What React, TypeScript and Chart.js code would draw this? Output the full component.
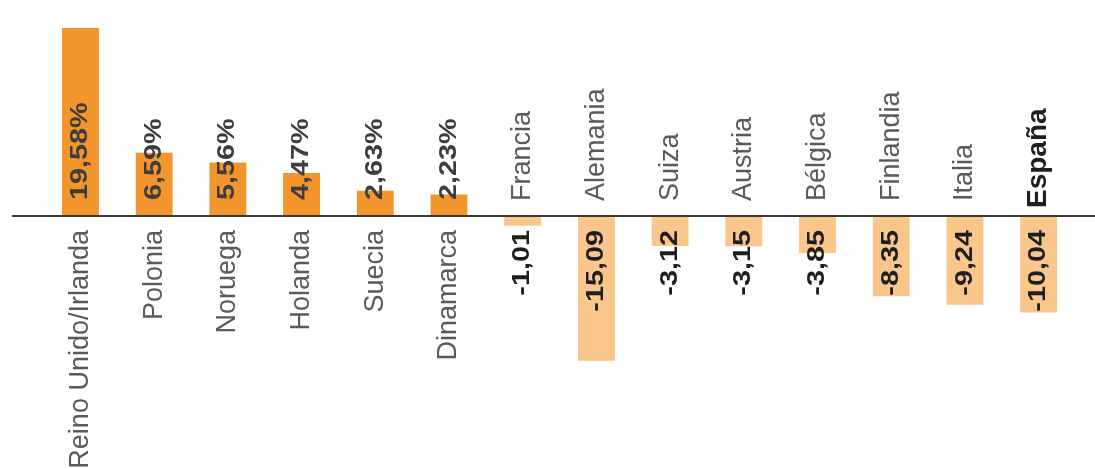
import React, { useEffect, useRef } from "react";
import { Chart, registerables } from "chart.js";

Chart.register(...registerables);

const categories = [
  "Reino Unido/Irlanda",
  "Polonia",
  "Noruega",
  "Holanda",
  "Suecia",
  "Dinamarca",
  "Francia",
  "Alemania",
  "Suiza",
  "Austria",
  "Bélgica",
  "Finlandia",
  "Italia",
  "España",
];

const values = [19.58, 6.59, 5.56, 4.47, 2.63, 2.23, -1.01, -15.09, -3.12, -3.15, -3.85, -8.35, -9.24, -10.04];

const valueLabels = [
  "19,58%",
  "6,59%",
  "5,56%",
  "4,47%",
  "2,63%",
  "2,23%",
  "-1,01",
  "-15,09",
  "-3,12",
  "-3,15",
  "-3,85",
  "-8,35",
  "-9,24",
  "-10,04",
];

const highlighted = ["España"];

const POS_COLOR = "#F3952D";
const NEG_COLOR = "#F9C68C";

const labelPlugin = {
  id: "customLabels",
  afterDatasetsDraw(chart: any) {
    const ctx = chart.ctx as CanvasRenderingContext2D;
    const meta = chart.getDatasetMeta(0);
    const yScale = chart.scales.y;
    const base = yScale.getPixelForValue(0);

    ctx.save();
    ctx.strokeStyle = "#3a3a3a";
    ctx.lineWidth = 2;
    ctx.beginPath();
    ctx.moveTo(12, base);
    ctx.lineTo(chart.width, base);
    ctx.stroke();
    ctx.restore();

    const drawRot = (
      text: string,
      x: number,
      y: number,
      align: CanvasTextAlign,
      font: string,
      color: string,
      stretch: number
    ) => {
      ctx.save();
      ctx.translate(x, y);
      ctx.rotate(-Math.PI / 2);
      ctx.scale(stretch, 1);
      ctx.font = font;
      ctx.fillStyle = color;
      ctx.textAlign = align;
      ctx.textBaseline = "middle";
      ctx.fillText(text, 0, 0);
      ctx.restore();
    };

    meta.data.forEach((bar: any, i: number) => {
      const x = bar.x;
      const v = values[i];
      const cat = categories[i];
      const isHi = highlighted.includes(cat);
      const catFont = isHi
        ? "bold 28px 'Liberation Sans', Arial, sans-serif"
        : "27px 'Liberation Sans', Arial, sans-serif";
      const catColor = isHi ? "#1e1e1e" : "#5a5a5a";
      const valFont = "bold 24px 'Liberation Sans', Arial, sans-serif";
      if (v >= 0) {
        drawRot(cat, x, base + 14, "right", catFont, catColor, 1);
        drawRot(valueLabels[i], x, base - 16, "left", valFont, "#3d3d3d", 1.2);
      } else {
        drawRot(cat, x, base - (isHi ? 8 : 15), "left", catFont, catColor, 1);
        drawRot(valueLabels[i], x, base + 14, "right", valFont, "#1e1e1e", 1.2);
      }
    });
  },
};

export default function App() {
  const canvasRef = useRef<HTMLCanvasElement | null>(null);

  useEffect(() => {
    if (!canvasRef.current) return;
    const pxPerUnit = 9.6;
    const yMax = 216 / pxPerUnit;
    const yMin = yMax - 469 / pxPerUnit;
    const chart = new Chart(canvasRef.current, {
      type: "bar",
      data: {
        labels: categories,
        datasets: [
          {
            data: values,
            backgroundColor: values.map((v) => (v >= 0 ? POS_COLOR : NEG_COLOR)),
            borderWidth: 0,
            barPercentage: 0.5,
            categoryPercentage: 1.0,
          },
        ],
      },
      options: {
        responsive: false,
        animation: false,
        maintainAspectRatio: false,
        layout: { padding: { left: 43.6, right: 19.5, top: 0, bottom: 0 } },
        plugins: {
          legend: { display: false },
          tooltip: { enabled: false },
        },
        scales: {
          x: { display: false, grid: { display: false } },
          y: { display: false, min: yMin, max: yMax, grid: { display: false } },
        },
      },
      plugins: [labelPlugin],
    });
    return () => chart.destroy();
  }, []);

  return (
    <div style={{ position: "fixed", left: 0, top: 0, width: 1095, height: 469, background: "#fff" }}>
      <canvas ref={canvasRef} width={1095} height={469} style={{ display: "block", width: 1095, height: 469 }} />
    </div>
  );
}
